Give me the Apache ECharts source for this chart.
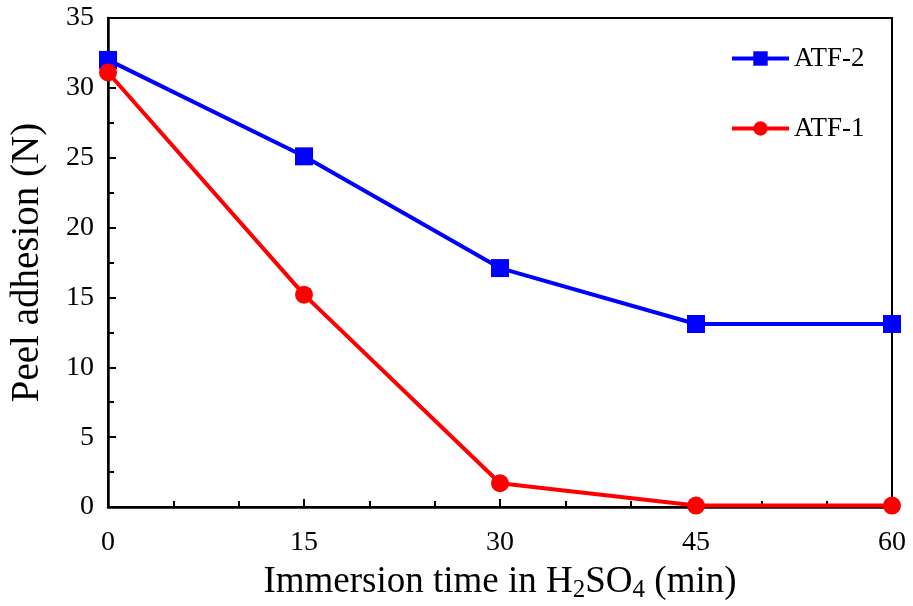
<!DOCTYPE html>
<html>
<head>
<meta charset="utf-8">
<script src="https://cdn.jsdelivr.net/npm/echarts@6/dist/echarts.min.js"></script>
<style>
  html, body { margin: 0; padding: 0; background: #fff; }
  #chart { width: 913px; height: 606px; }
</style>
</head>
<body>
<div id="chart"></div>
<script>
// Immersion time (min)
const times = [0, 15, 30, 45, 60];
// Peel adhesion (N)
const atf2 = [32.0, 25.1, 17.1, 13.1, 13.1];
const atf1 = [31.1, 15.2, 1.7, 0.1, 0.1];

const FONT = '"Liberation Serif", "Times New Roman", serif';

const chart = echarts.init(document.getElementById('chart'), null, { renderer: 'canvas' });

const pair = (xs, ys) => xs.map((x, i) => [x, ys[i]]);

chart.setOption({
  animation: false,
  backgroundColor: '#fff',
  grid: {
    left: 108, right: 21, top: 18, bottom: 99,
    outerBoundsMode: 'none', containLabel: false,
    show: true, borderColor: '#000', borderWidth: 2
  },
  legend: {
    left: 730, top: 45, padding: 0, orient: 'vertical', itemGap: 43,
    itemWidth: 57, itemHeight: 18,
    lineStyle: { width: 4 },
    textStyle: { fontFamily: FONT, fontSize: 27, color: '#000', padding: [0, 0, 0, 0] },
    data: ['ATF-2', 'ATF-1']
  },
  xAxis: {
    type: 'value', min: 0, max: 60, interval: 15,
    axisLine: { lineStyle: { color: '#000', width: 2.5 } },
    axisTick: { inside: true, length: 8, lineStyle: { color: '#000', width: 2 } },
    minorTick: { show: true, splitNumber: 3, length: 6, lineStyle: { color: '#000', width: 2 } },
    splitLine: { show: false },
    axisLabel: { fontFamily: FONT, fontSize: 28, color: '#000', margin: 22 },
    name: '{n|Immersion time in H}{s|2}{n|SO}{s|4}{n| (min)}',
    nameLocation: 'middle', nameGap: 55,
    nameTextStyle: {
      rich: {
        n: { fontFamily: FONT, fontSize: 37, color: '#000' },
        s: { fontFamily: FONT, fontSize: 25, color: '#000', verticalAlign: 'bottom', padding: [16, 0, 0, 0] }
      }
    }
  },
  yAxis: {
    type: 'value', min: 0, max: 35, interval: 5,
    axisLine: { lineStyle: { color: '#000', width: 2.5 } },
    axisTick: { inside: true, length: 8, lineStyle: { color: '#000', width: 2 } },
    minorTick: { show: true, splitNumber: 2, length: 6, lineStyle: { color: '#000', width: 2 } },
    splitLine: { show: false },
    axisLabel: { fontFamily: FONT, fontSize: 28, color: '#000', margin: 14 },
    name: 'Peel adhesion (N)',
    nameLocation: 'middle', nameGap: 61,
    nameTextStyle: { fontFamily: FONT, fontSize: 39, color: '#000' }
  },
  series: [
    {
      name: 'ATF-2', type: 'line', data: pair(times, atf2),
      symbol: 'rect', symbolSize: 18,
      lineStyle: { color: '#0000ff', width: 4 },
      itemStyle: { color: '#0000ff' },
      z: 2
    },
    {
      name: 'ATF-1', type: 'line', data: pair(times, atf1),
      symbol: 'circle', symbolSize: 18,
      lineStyle: { color: '#ff0000', width: 4 },
      itemStyle: { color: '#ff0000' },
      z: 3
    }
  ]
});
</script>
</body>
</html>
